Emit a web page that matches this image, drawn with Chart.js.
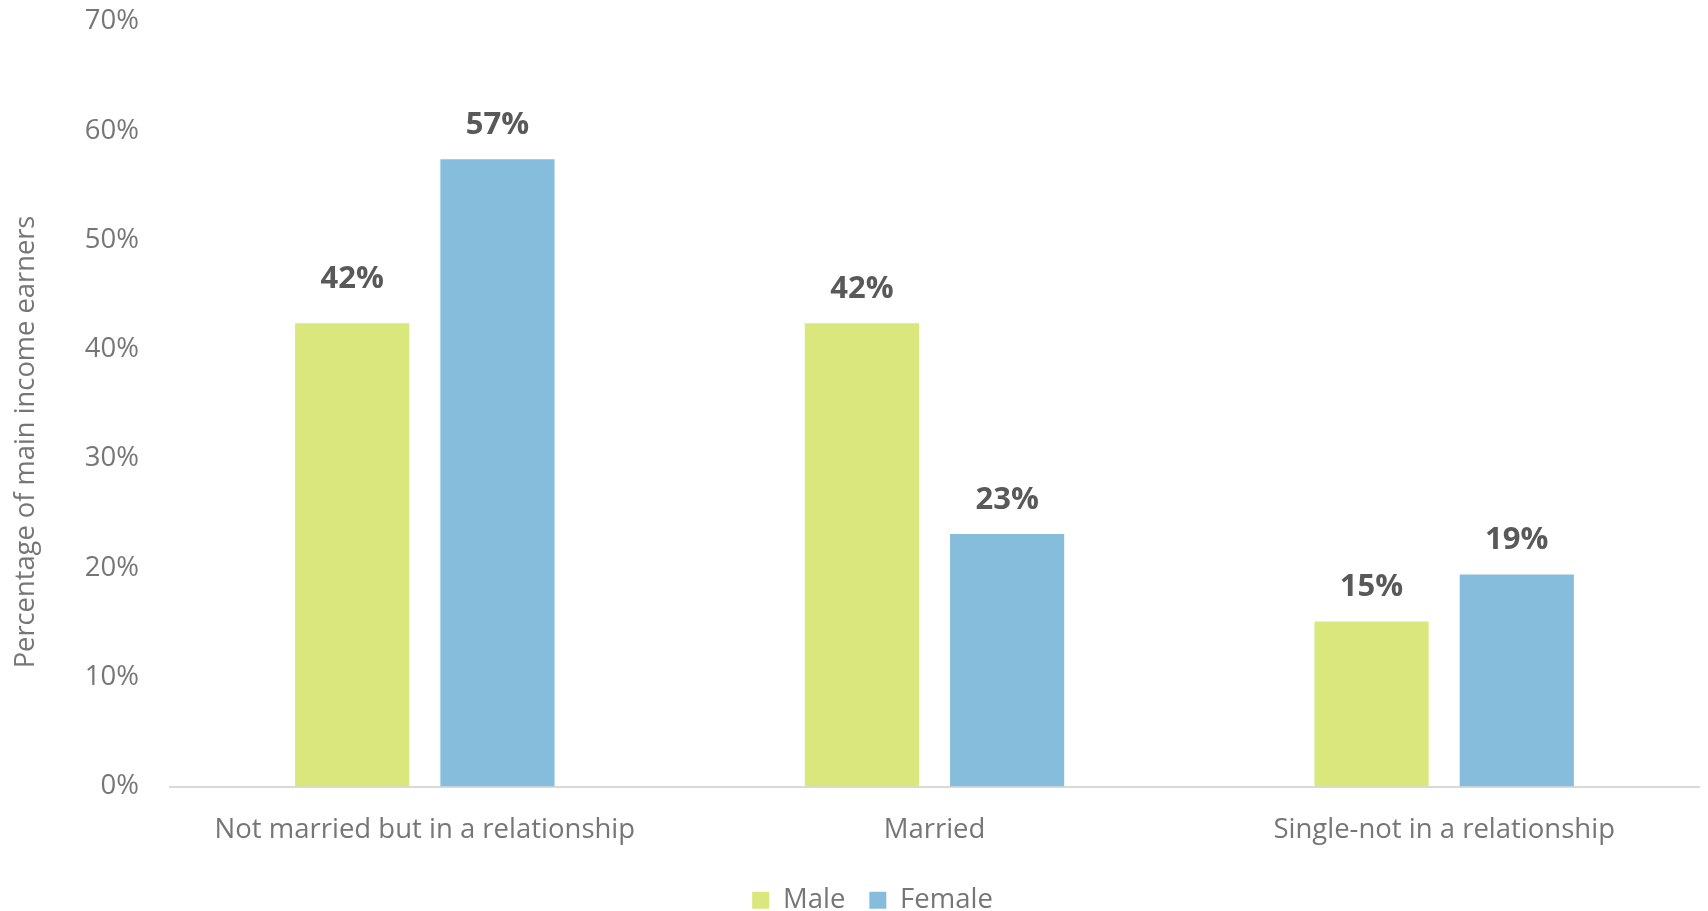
<!DOCTYPE html>
<html>
<head>
<meta charset="utf-8">
<title>Main income earners by relationship status</title>
<script src="https://cdn.jsdelivr.net/npm/chart.js@4.4.1/dist/chart.umd.min.js"></script>
<style>
  html, body { margin: 0; padding: 0; background: #fff; overflow: hidden; }
  #wrap { position: relative; width: 1708px; height: 924px; }
</style>
</head>
<body>
<div id="wrap"><canvas id="earners"></canvas></div>
<script>
// Share of main income earners (%) by relationship status
const categories = ["Not married but in a relationship", "Married", "Single-not in a relationship"];
const maleShare = [42.4, 42.4, 15.1];
const femaleShare = [57.4, 23.1, 19.4];
const seriesNames = ["Male", "Female"];
const yAxisTitle = "Percentage of main income earners";

const tickGray = "#767676";

// Bold value labels above each bar
const valueLabels = {
  id: "valueLabels",
  afterDatasetsDraw(chart, args, opts) {
    const ctx = chart.ctx;
    ctx.save();
    ctx.font = "bold 31px 'Open Sans'";
    ctx.fillStyle = "#595959";
    ctx.textAlign = "center";
    ctx.textBaseline = "middle";
    chart.data.datasets.forEach((ds, di) => {
      const meta = chart.getDatasetMeta(di);
      meta.data.forEach((bar, i) => {
        const lift = (opts.lift || {})[di + ":" + i] || 0;
        ctx.fillText(Math.round(ds.data[i]) + "%", bar.x, bar.y - opts.gap - lift);
      });
    });
    ctx.restore();
  }
};

// Rotated y axis title, drawn a little below the plot's middle
const sideTitle = {
  id: "sideTitle",
  afterDraw(chart, args, opts) {
    const ctx = chart.ctx;
    const area = chart.chartArea;
    ctx.save();
    ctx.translate(opts.x, (area.top + area.bottom) / 2 + opts.shift);
    ctx.rotate(-Math.PI / 2);
    ctx.font = "27.3px 'Open Sans'";
    ctx.fillStyle = tickGray;
    ctx.textAlign = "center";
    ctx.textBaseline = "middle";
    ctx.fillText(opts.text, 0, 0);
    ctx.restore();
  }
};

// Nudge the legend row sideways after layout
const legendShift = {
  id: "legendShift",
  afterLayout(chart, args, opts) {
    if (chart.legend) {
      chart.legend.left += opts.dx;
      chart.legend.right += opts.dx;
    }
  }
};

new Chart(document.getElementById("earners"), {
  type: "bar",
  data: {
    labels: categories,
    datasets: [
      { label: seriesNames[0], data: maleShare, backgroundColor: "#dae77c" },
      { label: seriesNames[1], data: femaleShare, backgroundColor: "#87bddc" }
    ]
  },
  plugins: [valueLabels, sideTitle, legendShift],
  options: {
    responsive: true,
    maintainAspectRatio: false,
    animation: false,
    categoryPercentage: 0.57,
    barPercentage: 0.786,
    layout: { padding: { top: 21.5, right: 9, left: 0, bottom: 0 } },
    scales: {
      x: {
        grid: { display: false, drawTicks: false },
        border: { display: true, color: "#d9d9d9", width: 2 },
        ticks: { color: tickGray, font: { family: "'Open Sans'", size: 27.5 }, padding: 27.4 },
        afterFit(scale) { scale.height -= 11.8; }
      },
      y: {
        min: 0,
        max: 70,
        grid: { display: false, drawTicks: false },
        border: { display: false },
        ticks: {
          stepSize: 10,
          color: tickGray,
          font: { family: "'Open Sans'", size: 27.5 },
          padding: 31,
          callback: v => v + "%"
        },
        afterFit(scale) {
          scale.width = 170;
          scale.paddingTop = 0;
          scale.paddingBottom = 0;
        }
      }
    },
    plugins: {
      legend: {
        position: "bottom",
        labels: {
          boxWidth: 17,
          boxHeight: 17,
          padding: 24,
          color: tickGray,
          font: { family: "'Open Sans'", size: 27.5 }
        }
      },
      tooltip: { enabled: false },
      valueLabels: { gap: 34, lift: { "0:0": 10 } },
      sideTitle: { text: yAxisTitle, x: 26, shift: 38 },
      legendShift: { dx: 23 }
    }
  }
});
</script>
</body>
</html>
